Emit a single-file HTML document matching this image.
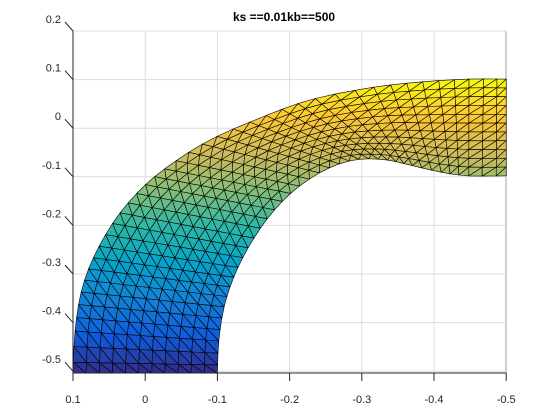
<!DOCTYPE html>
<html><head><meta charset="utf-8"><style>
body{margin:0;background:#fff}
svg{display:block;font-family:"Liberation Sans",Arial,sans-serif}
</style></head><body>
<svg id="chart" width="560" height="420" viewBox="0 0 560 420" xmlns="http://www.w3.org/2000/svg">
<rect width="560" height="420" fill="#fff"/>
<text x="284" y="21" text-anchor="middle" font-size="12" font-weight="bold" fill="#000">ks ==0.01kb==500</text>
<g id="grid"></g>
<g id="mesh"></g>
<g id="axes"></g>
</svg>
<script>
const xTicks=[0.1,0,-0.1,-0.2,-0.3,-0.4,-0.5];
const xTickLabels=["0.1","0","-0.1","-0.2","-0.3","-0.4","-0.5"];
const yTicks=[0.2,0.1,0,-0.1,-0.2,-0.3,-0.4,-0.5];
const yTickLabels=["0.2","0.1","0","-0.1","-0.2","-0.3","-0.4","-0.5"];
const outerX=[0.1,0.097,0.088,0.070,0.042,0.007,-0.034,-0.090,-0.159,-0.228,-0.311,-0.381,-0.447,-0.5];
const outerY=[-0.504,-0.415,-0.333,-0.261,-0.189,-0.127,-0.076,-0.024,0.021,0.058,0.083,0.095,0.101,0.101];
const innerX=[-0.1,-0.102,-0.110,-0.124,-0.145,-0.173,-0.207,-0.249,-0.291,-0.332,-0.367,-0.408,-0.447,-0.5];
const innerY=[-0.504,-0.436,-0.364,-0.302,-0.240,-0.179,-0.127,-0.086,-0.065,-0.065,-0.076,-0.090,-0.098,-0.098];

const NS="http://www.w3.org/2000/svg";
const X0=73,X1=506,Y0=31,Y1=373;
function sx(v){return X0+(0.1-v)*722;}
function sy(v){return Y0+(0.2-v)*486;}
function mk(tag,attrs,parent){const e=document.createElementNS(NS,tag);for(const k in attrs)e.setAttribute(k,attrs[k]);parent.appendChild(e);return e;}
const grid=document.getElementById('grid'),axes=document.getElementById('axes'),mesh=document.getElementById('mesh');

xTicks.forEach((t,i)=>{
  const gl=mk('line',{x1:sx(t),x2:sx(t),y1:Y0,y2:Y1,stroke:'#dcdcdc','stroke-width':1},grid);
  
  
  const tk=mk('line',{x1:sx(t),x2:sx(t),y1:Y1,y2:Y1+8,stroke:'#262626','stroke-width':1},axes);
  
  
  const lb=mk('text',{x:sx(t),y:Y1+30,'text-anchor':'middle','font-size':11,fill:'#262626'},axes);
  lb.textContent=xTickLabels[i];
  
  
});
yTicks.forEach((t,i)=>{
  const y=sy(t);
  if(t<0.19){
    const gl=mk('line',{x1:X0,x2:X1,y1:y,y2:y,stroke:'#dcdcdc','stroke-width':1},grid);
    
    
  }
  const tk=mk('line',{x1:X0,x2:X0-8,y1:y,y2:y-9,stroke:'#262626','stroke-width':1},axes);
  
  
  const lb=mk('text',{x:X0-12,y:y-8,'text-anchor':'end','font-size':11,fill:'#262626'},axes);
  lb.textContent=yTickLabels[i];
  
  
});
mk('line',{x1:X0,x2:X1,y1:Y0,y2:Y0,stroke:'#dcdcdc'},grid);
mk('line',{x1:X1,x2:X1,y1:Y0,y2:Y1,stroke:'#d0d0d0','stroke-width':2},grid);

const stops=[[0,[53,42,135]],[0.125,[15,92,221]],[0.25,[20,129,214]],[0.375,[6,164,202]],[0.5,[46,183,164]],[0.625,[135,191,119]],[0.75,[209,187,89]],[0.875,[254,200,50]],[1,[249,251,14]]];
function parula(t){t=Math.max(0,Math.min(1,t));for(let i=1;i<stops.length;i++){if(t<=stops[i][0]){const a=stops[i-1],b=stops[i],f=(t-a[0])/(b[0]-a[0]);return 'rgb('+a[1].map((c,k)=>Math.round(c+(b[1][k]-c)*f)).join(',')+')';}}return 'rgb(249,251,14)';}
function samp(arr,t){
  const n=arr.length-1,p=t*n,i=Math.min(Math.floor(p),n-1),f=p-i;
  const p0=arr[Math.max(i-1,0)],p1=arr[i],p2=arr[i+1],p3=arr[Math.min(i+2,n)];
  return 0.5*((2*p1)+(-p0+p2)*f+(2*p0-5*p1+4*p2-p3)*f*f+(-p0+3*p1-3*p2+p3)*f*f*f);
}
const NU=40,NV=11;
const P=[];
for(let i=0;i<=NU;i++){const t=i/NU;const ox=samp(outerX,t),oy=samp(outerY,t),ix=samp(innerX,t),iy=samp(innerY,t);const row=[];
  for(let j=0;j<=NV;j++){const v=j/NV;row.push([ox+(ix-ox)*v,oy+(iy-oy)*v]);}P.push(row);}
const ymin=Math.min(...outerY,...innerY),ymax=Math.max(...outerY,...innerY);
function tri(a,b,c){
  const yc=(a[1]+b[1]+c[1])/3;
  const p=mk('polygon',{points:[a,b,c].map(q=>sx(q[0]).toFixed(1)+','+sy(q[1]).toFixed(1)).join(' '),fill:parula((yc-ymin)/(ymax-ymin)),stroke:'#000','stroke-width':0.6,'stroke-linejoin':'round'},mesh);
  
  
}
for(let i=0;i<NU;i++)for(let j=0;j<NV;j++){
  const a=P[i][j],b=P[i+1][j],c=P[i+1][j+1],d=P[i][j+1];
  tri(a,b,d);tri(b,c,d);
}
mk('line',{x1:X0,x2:X1,y1:Y1,y2:Y1,stroke:'#262626','stroke-width':1},axes);
mk('line',{x1:X0,x2:X0,y1:Y0,y2:Y1,stroke:'#262626','stroke-width':1},axes);
</script>
</body></html>
